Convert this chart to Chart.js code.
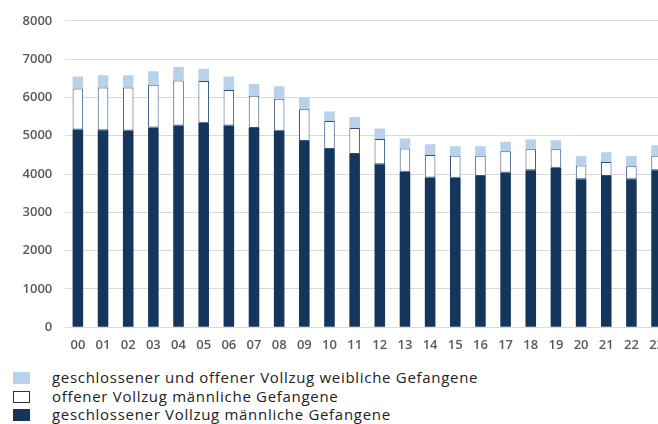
<!DOCTYPE html>
<html>
<head>
<meta charset="utf-8">
<script src="https://cdn.jsdelivr.net/npm/chart.js@4/dist/chart.umd.min.js"></script>
<style>
  html, body { margin: 0; padding: 0; background: #fff; overflow: hidden; width: 658px; height: 424px; }
  #wrap { position: absolute; left: 0; top: 0; width: 674px; height: 362px; }
  #legend { position: absolute; left: 0; top: 368px; margin: 0; padding: 0; list-style: none;
            font-family: "Open Sans", sans-serif; font-size: 15px; letter-spacing: 0.7px; color: #222; }
  #legend li { position: relative; height: 18.7px; line-height: 18.7px; padding-left: 52px; white-space: nowrap; }
  #legend li span.box { position: absolute; left: 13px; top: 4px; width: 17px; height: 12px; box-sizing: border-box; }
</style>
</head>
<body>
<div id="wrap"><canvas id="chart"></canvas></div>
<ul id="legend"></ul>
<script>
// Jahre 2000 bis 2023
const years = ['00','01','02','03','04','05','06','07','08','09','10','11',
               '12','13','14','15','16','17','18','19','20','21','22','23'];

// geschlossener Vollzug, männliche Gefangene
const closedMale = [5161, 5144, 5136, 5213, 5264, 5341, 5264, 5205, 5128, 4862, 4656, 4521,
                    4256, 4059, 3910, 3905, 3948, 4042, 4102, 4162, 3862, 3948, 3862, 4102];

// offener Vollzug, männliche Gefangene
const openMale = [1069, 1112, 1120, 1120, 1180, 1085, 932, 836, 836, 830, 728, 684,
                  659, 607, 585, 573, 530, 555, 547, 487, 360, 368, 343, 376];

// geschlossener und offener Vollzug, weibliche Gefangene
const female = [316, 323, 323, 349, 351, 325, 350, 309, 326, 308, 248, 282,
                272, 265, 282, 248, 248, 249, 256, 231, 247, 256, 264, 274];

const yTicks = [0, 1000, 2000, 3000, 4000, 5000, 6000, 7000, 8000];

const seriesNames = [
  'geschlossener Vollzug männliche Gefangene',
  'offener Vollzug männliche Gefangene',
  'geschlossener und offener Vollzug weibliche Gefangene'
];

const tickFont = { family: '"Open Sans", sans-serif', size: 13, weight: '600' };

const chart = new Chart(document.getElementById('chart'), {
  type: 'bar',
  data: {
    labels: years,
    datasets: [
      { label: seriesNames[0], data: closedMale, backgroundColor: '#14365c',
        borderColor: '#14365c', borderWidth: 0 },
      { label: seriesNames[1], data: openMale, backgroundColor: '#ffffff',
        borderColor: '#34507a', borderWidth: 1, borderSkipped: false },
      { label: seriesNames[2], data: female, backgroundColor: '#b7d2ea',
        borderColor: '#b7d2ea', borderWidth: 0 }
    ]
  },
  options: {
    responsive: true,
    maintainAspectRatio: false,
    animation: false,
    layout: { padding: { top: 15, left: 0, right: 0, bottom: 0 } },
    datasets: { bar: { categoryPercentage: 1, barPercentage: 0.42 } },
    plugins: { legend: { display: false }, tooltip: { enabled: false } },
    scales: {
      x: {
        stacked: true,
        grid: { display: false, drawTicks: false },
        border: { display: false },
        ticks: { color: '#595959', font: tickFont, padding: 10, maxRotation: 0, autoSkip: false },
        afterFit: s => { s.height = 34.7; }
      },
      y: {
        stacked: true,
        min: 0, max: 8000,
        afterBuildTicks: s => { s.ticks = yTicks.map(v => ({ value: v })); },
        grid: { color: '#d9d9d9', lineWidth: 1, drawTicks: false },
        border: { display: false },
        ticks: { color: '#595959', font: tickFont, padding: 13, callback: v => String(v) },
        afterFit: s => { s.width = 65.3; }
      }
    }
  }
});

// Legende als Liste unter dem Diagramm, oberste Serie zuerst
const legendEl = document.getElementById('legend');
const items = Chart.defaults.plugins.legend.labels.generateLabels(chart).slice().reverse();
items.forEach(item => {
  const li = document.createElement('li');
  const box = document.createElement('span');
  box.className = 'box';
  box.style.background = item.fillStyle;
  if (item.fillStyle === '#ffffff') box.style.border = '1px solid #333';
  li.appendChild(box);
  li.appendChild(document.createTextNode(item.text));
  legendEl.appendChild(li);
});
</script>
</body>
</html>
